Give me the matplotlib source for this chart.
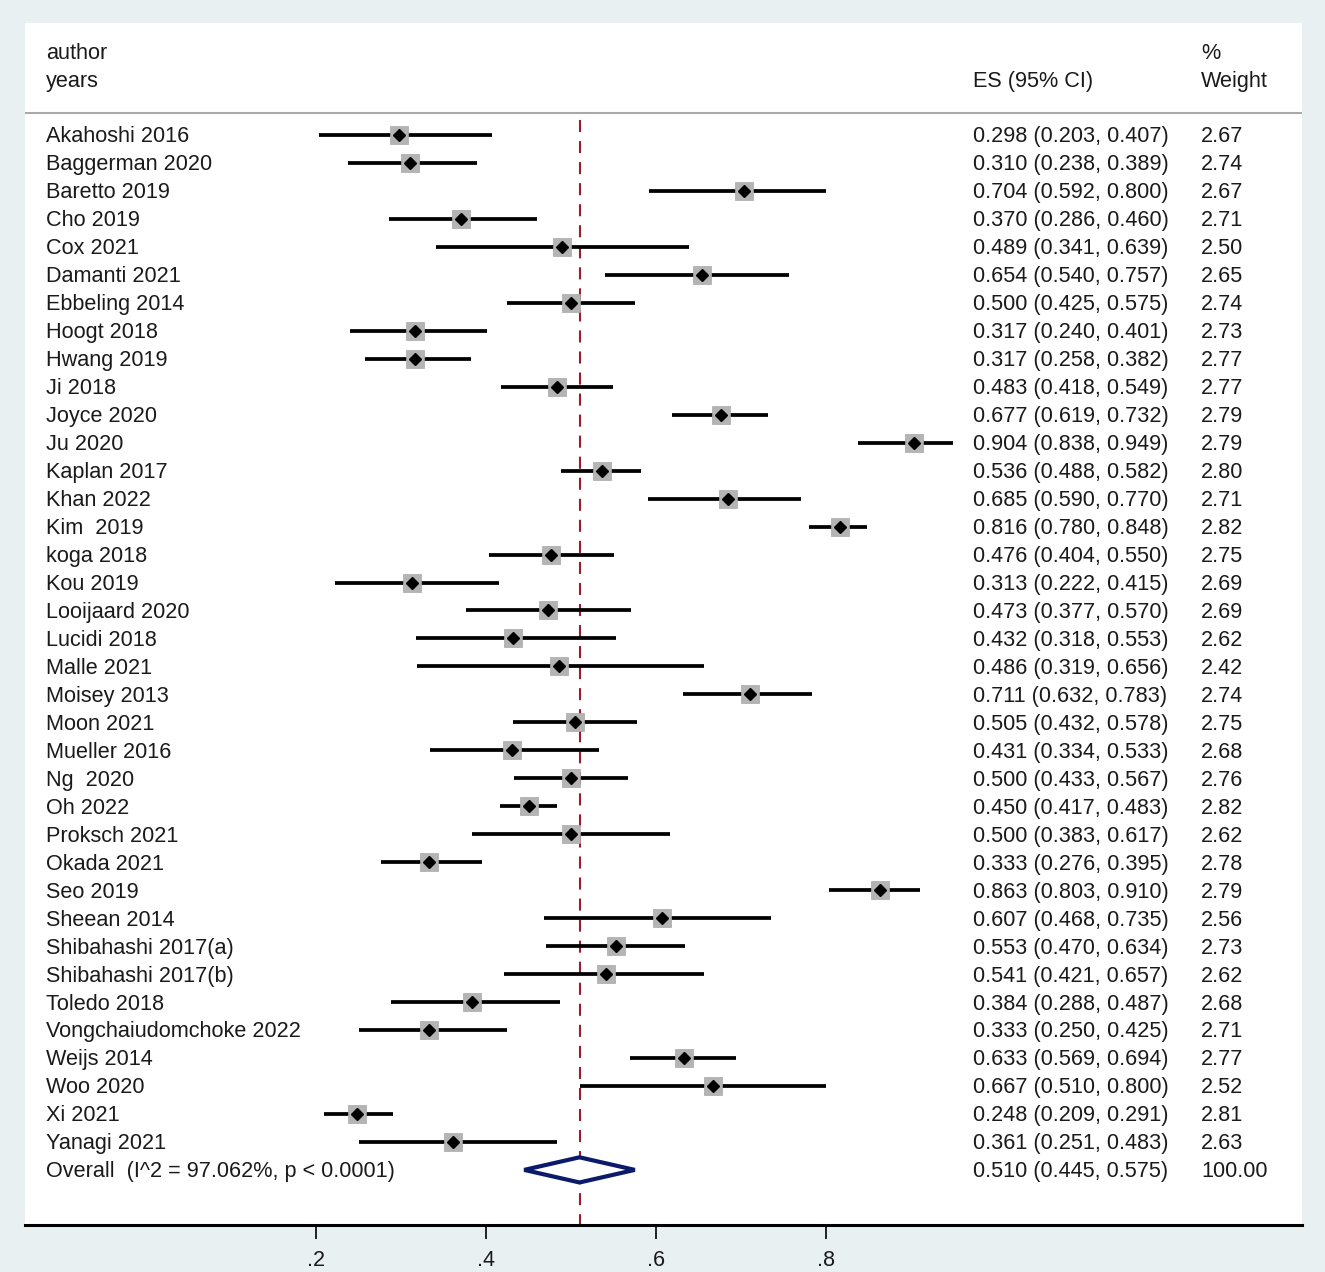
import matplotlib.pyplot as plt

plt.rcParams['font.family'] = ['Liberation Sans', 'DejaVu Sans']

authors = [
    'Akahoshi 2016', 'Baggerman 2020', 'Baretto 2019', 'Cho 2019', 'Cox 2021',
    'Damanti 2021', 'Ebbeling 2014', 'Hoogt 2018', 'Hwang 2019', 'Ji 2018',
    'Joyce 2020', 'Ju 2020', 'Kaplan 2017', 'Khan 2022', 'Kim  2019',
    'koga 2018', 'Kou 2019', 'Looijaard 2020', 'Lucidi 2018', 'Malle 2021',
    'Moisey 2013', 'Moon 2021', 'Mueller 2016', 'Ng  2020', 'Oh 2022',
    'Proksch 2021', 'Okada 2021', 'Seo 2019', 'Sheean 2014',
    'Shibahashi 2017(a)', 'Shibahashi 2017(b)', 'Toledo 2018',
    'Vongchaiudomchoke 2022', 'Weijs 2014', 'Woo 2020', 'Xi 2021', 'Yanagi 2021'
]
es = [0.298, 0.310, 0.704, 0.370, 0.489, 0.654, 0.500, 0.317, 0.317, 0.483,
      0.677, 0.904, 0.536, 0.685, 0.816, 0.476, 0.313, 0.473, 0.432, 0.486,
      0.711, 0.505, 0.431, 0.500, 0.450, 0.500, 0.333, 0.863, 0.607, 0.553,
      0.541, 0.384, 0.333, 0.633, 0.667, 0.248, 0.361]
lo = [0.203, 0.238, 0.592, 0.286, 0.341, 0.540, 0.425, 0.240, 0.258, 0.418,
      0.619, 0.838, 0.488, 0.590, 0.780, 0.404, 0.222, 0.377, 0.318, 0.319,
      0.632, 0.432, 0.334, 0.433, 0.417, 0.383, 0.276, 0.803, 0.468, 0.470,
      0.421, 0.288, 0.250, 0.569, 0.510, 0.209, 0.251]
hi = [0.407, 0.389, 0.800, 0.460, 0.639, 0.757, 0.575, 0.401, 0.382, 0.549,
      0.732, 0.949, 0.582, 0.770, 0.848, 0.550, 0.415, 0.570, 0.553, 0.656,
      0.783, 0.578, 0.533, 0.567, 0.483, 0.617, 0.395, 0.910, 0.735, 0.634,
      0.657, 0.487, 0.425, 0.694, 0.800, 0.291, 0.483]
weights = [2.67, 2.74, 2.67, 2.71, 2.50, 2.65, 2.74, 2.73, 2.77, 2.77,
           2.79, 2.79, 2.80, 2.71, 2.82, 2.75, 2.69, 2.69, 2.62, 2.42,
           2.74, 2.75, 2.68, 2.76, 2.82, 2.62, 2.78, 2.79, 2.56, 2.73,
           2.62, 2.68, 2.71, 2.77, 2.52, 2.81, 2.63]

overall_es, overall_lo, overall_hi = 0.510, 0.445, 0.575
overall_label = 'Overall  (I^2 = 97.062%, p < 0.0001)'
ticks = [0.2, 0.4, 0.6, 0.8]
tick_labels = ['.2', '.4', '.6', '.8']

W, H = 1325, 1272
fig = plt.figure(figsize=(W / 100, H / 100), dpi=100)
fig.patch.set_facecolor('#e8f0f2')

# white panel, pixel placement
left_px, right_px, top_px, bot_px = 25, 1302, 23, 1225
ax = fig.add_axes([left_px / W, 1 - bot_px / H,
                   (right_px - left_px) / W, (bot_px - top_px) / H])
ax.set_facecolor('white')

# x: 850 px per unit, zero at px 146 ; y: rows 27.97 px apart, first at px 135
x0, xs = 146, 850
y0, ys = 135, 27.97
ax.set_xlim((left_px - x0) / xs, (right_px - x0) / xs)
ax.set_ylim((bot_px - y0) / ys, (top_px - y0) / ys)

n = len(authors)
rows = list(range(n))
fs = 15.6
txt = '#1a1a1a'
dy = 0.07  # text sits a touch below the marks

name_x = (46 - left_px) / (right_px - left_px)
es_x = (973 - left_px) / (right_px - left_px)
wt_x = (1201 - left_px) / (right_px - left_px)
tr = ax.get_yaxis_transform()


def put(x, y, s):
    ax.text(x, y + dy, s, transform=tr, fontsize=fs, color=txt, va='center')


# header
put(name_x, -3, 'author')
put(name_x, -2, 'years')
put(es_x, -2, 'ES (95% CI)')
put(wt_x, -3, '%')
put(wt_x, -2, 'Weight')
ax.axhline(-0.79, color='#a9a9a9', lw=1.5)

# reference line at the pooled estimate
ax.plot([overall_es, overall_es], [-0.55, ax.get_ylim()[0]], color='#9b1b30',
        lw=1.5, linestyle=(0, (5.8, 4.3)), zorder=1)

for i in rows:
    ax.plot([lo[i], hi[i]], [i, i], color='black', lw=2.7, zorder=2,
            solid_capstyle='butt')
    ax.plot(es[i], i, marker='s', ms=13 * (weights[i] / 2.7) ** 0.5,
            color='#b4b4b4', mec='#a8a8a8', mew=0.5, zorder=3)
    ax.plot(es[i], i, marker='D', ms=6.5, color='black', zorder=4)
    put(name_x, i, authors[i])
    put(es_x, i, f'{es[i]:.3f} ({lo[i]:.3f}, {hi[i]:.3f})')
    put(wt_x, i, f'{weights[i]:.2f}')

# pooled diamond
r = n
ax.fill([overall_lo, overall_es, overall_hi, overall_es, overall_lo],
        [r, r - 0.45, r, r + 0.45, r], facecolor='white', edgecolor='#0c1a6b',
        lw=3.0, zorder=5)
put(name_x, r, overall_label)
put(es_x, r, f'{overall_es:.3f} ({overall_lo:.3f}, {overall_hi:.3f})')
put(wt_x, r, '100.00')

for s in ['top', 'left', 'right']:
    ax.spines[s].set_visible(False)
ax.spines['bottom'].set_linewidth(2.2)
ax.spines['bottom'].set_color('black')
ax.set_yticks([])
ax.set_xticks(ticks)
ax.set_xticklabels(tick_labels, fontsize=fs, color=txt)
ax.tick_params(axis='x', direction='out', length=10, width=1.2, pad=8)

fig.savefig('out.png', dpi=100, facecolor=fig.get_facecolor())
